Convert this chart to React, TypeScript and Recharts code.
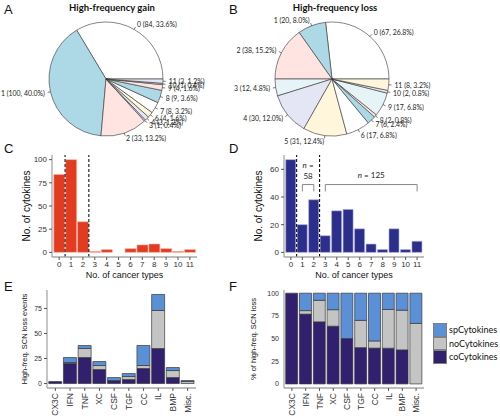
import {
  PieChart,
  Pie,
  Cell,
  BarChart,
  Bar,
  XAxis,
  YAxis,
  ReferenceLine,
  ReferenceDot,
} from "recharts";

// cancer-type counts (0..11) per cytokine
const cancerTypes = [0, 1, 2, 3, 4, 5, 6, 7, 8, 9, 10, 11];
const gainCounts = [84, 100, 33, 1, 3, 0, 4, 8, 9, 4, 1, 3];
const lossCounts = [67, 20, 38, 12, 30, 31, 17, 6, 2, 17, 2, 8];

// cytokine families, high-freq SCN loss events
const families = ["CX3C", "IFN", "TNF", "XC", "CSF", "TGF", "CC", "IL", "BMP", "Misc."];
const coCounts = [2, 20, 26, 14, 3, 4, 15, 35, 6, 0];
const noCounts = [0, 1, 9, 4, 0, 3, 3, 38, 7, 2];
const spCounts = [0, 5, 3, 4, 3, 3, 20, 16, 3, 1];

const gainTicks = [0, 25, 50, 75, 100];
const lossTicks = [0, 20, 40, 60];
const eventTicks = [0, 25, 50, 75];
const pctTicks = [0, 25, 50, 75, 100];

const PIE_COLORS = ["#ffffff", "#add8e6", "#ffe4e1", "#e6f4f8", "#e4e6f6", "#fff6dc"];
const AXIS_FONT = "'Liberation Sans', Arial, sans-serif";
const LABEL_FONT = "Lato, 'Open Sans', sans-serif";
const BOX = "#a8a8a8";
const CO = "#30206e";
const NO = "#c4c4c4";
const SP = "#5b8fd6";

const SERIES = [
  { key: "co", name: "coCytokines", color: CO },
  { key: "no", name: "noCytokines", color: NO },
  { key: "sp", name: "spCytokines", color: SP },
];

const RAD = Math.PI / 180;

const pieData = (counts: number[]) =>
  counts
    .map((v, i) => ({ name: String(cancerTypes[i]), value: v }))
    .filter((d) => d.value > 0);

const barData = (counts: number[]) => cancerTypes.map((t, i) => ({ x: t, n: counts[i] }));

const familyData = families.map((f, i) => ({
  family: f,
  co: coCounts[i],
  no: noCounts[i],
  sp: spCounts[i],
}));

// same counts as share of each family's total (ggplot position = "fill")
const familyShare = families.map((f, i) => {
  const total = coCounts[i] + noCounts[i] + spCounts[i];
  return {
    family: f,
    co: (coCounts[i] / total) * 100,
    no: (noCounts[i] / total) * 100,
    sp: (spCounts[i] / total) * 100,
  };
});

// R-style pie label: tick from r to 1.05r, text at 1.1r
function renderPieLabel(props: any) {
  const { cx, cy, midAngle, outerRadius, percent, payload } = props;
  const c = Math.cos(-midAngle * RAD);
  const s = Math.sin(-midAngle * RAD);
  const r = outerRadius;
  return (
    <g>
      <line
        x1={cx + r * c}
        y1={cy + r * s}
        x2={cx + 1.05 * r * c}
        y2={cy + 1.05 * r * s}
        stroke="#222"
        strokeWidth={0.6}
      />
      <text
        x={cx + 1.1 * r * c}
        y={cy + 1.1 * r * s}
        textAnchor={c < 0 ? "end" : "start"}
        dominantBaseline="central"
        fontSize={6.9}
        fontFamily={LABEL_FONT}
        fill="#222"
      >
        {`${payload.name} (${payload.value}, ${((percent ?? 0) * 100).toFixed(1)}%)`}
      </text>
    </g>
  );
}

function PiePanel({ counts, cx, width }: { counts: number[]; cx: number; width: number }) {
  const data = pieData(counts);
  return (
    <PieChart width={width} height={150} margin={{ top: 0, right: 0, bottom: 0, left: 0 }}>
      <Pie
        data={data}
        dataKey="value"
        nameKey="name"
        cx={cx}
        cy={79}
        outerRadius={57}
        startAngle={0}
        endAngle={360}
        stroke="#333"
        strokeWidth={0.6}
        label={renderPieLabel}
        labelLine={false}
        isAnimationActive={false}
      >
        {data.map((_, i) => (
          <Cell key={`cell-${i}`} fill={PIE_COLORS[i % PIE_COLORS.length]} />
        ))}
      </Pie>
    </PieChart>
  );
}

const tickStyle = { fill: "#333", fontSize: 8, fontFamily: AXIS_FONT };

function NText({ cx, cy, text, italicOnly }: any) {
  return (
    <text
      x={cx}
      y={cy}
      textAnchor="middle"
      dominantBaseline="central"
      fontSize={8}
      fontFamily={LABEL_FONT}
      fill="#222"
    >
      {italicOnly ? (
        text
      ) : (
        <>
          <tspan fontStyle="italic">n</tspan>
          {text}
        </>
      )}
    </text>
  );
}

function CountPanel({
  counts,
  color,
  edge,
  domain,
  ticks,
  yAxisWidth,
  right,
  annotate,
}: {
  counts: number[];
  color: string;
  edge: string;
  domain: number[];
  ticks: number[];
  yAxisWidth: number;
  right: number;
  annotate?: boolean;
}) {
  return (
    <BarChart
      width={250}
      height={140}
      data={barData(counts)}
      margin={{ top: 15, right, bottom: 0, left: 0 }}
      barCategoryGap="5%"
    >
      <XAxis
        type="number"
        dataKey="x"
        domain={[-0.6, 11.6]}
        ticks={cancerTypes}
        interval={0}
        height={23}
        tick={tickStyle}
        tickSize={3}
        tickMargin={1}
        tickLine={{ stroke: "#555" }}
        axisLine={{ stroke: BOX, strokeWidth: 1.3 }}
        label={{
          value: "No. of cancer types",
          position: "insideBottom",
          offset: 2,
          style: { fontSize: 9, fontFamily: AXIS_FONT, fill: "#111" },
        }}
      />
      <XAxis
        xAxisId="top"
        orientation="top"
        type="number"
        domain={[-0.6, 11.6]}
        height={0}
        tick={false}
        tickLine={false}
        axisLine={{ stroke: BOX, strokeWidth: 1.3 }}
      />
      <YAxis
        type="number"
        domain={domain}
        ticks={ticks}
        interval={0}
        width={yAxisWidth}
        tick={tickStyle}
        tickSize={3}
        tickMargin={2}
        tickLine={{ stroke: "#555" }}
        axisLine={{ stroke: BOX, strokeWidth: 1.3 }}
        label={{
          value: "No. of cytokines",
          angle: -90,
          position: "insideLeft",
          offset: yAxisWidth - 26,
          style: { textAnchor: "middle", fontSize: 10, fontFamily: AXIS_FONT, fill: "#111" },
        }}
      />
      <YAxis
        yAxisId="right"
        orientation="right"
        type="number"
        domain={domain}
        width={0}
        tick={false}
        tickLine={false}
        axisLine={{ stroke: BOX, strokeWidth: 1.3 }}
      />
      <Bar dataKey="n" fill={color} stroke={edge} strokeWidth={0.6} isAnimationActive={false} />
      <ReferenceLine x={0.5} stroke="#111" strokeDasharray="3 2" strokeWidth={1.1} />
      <ReferenceLine x={2.5} stroke="#111" strokeDasharray="3 2" strokeWidth={1.1} />
      {annotate && (
        <>
          <ReferenceLine segment={[{ x: 1, y: 49 }, { x: 2, y: 49 }]} stroke="#888" />
          <ReferenceLine segment={[{ x: 1, y: 44 }, { x: 1, y: 49 }]} stroke="#888" />
          <ReferenceLine segment={[{ x: 2, y: 44 }, { x: 2, y: 49 }]} stroke="#888" />
          <ReferenceLine segment={[{ x: 3, y: 49 }, { x: 11, y: 49 }]} stroke="#888" />
          <ReferenceLine segment={[{ x: 3, y: 44 }, { x: 3, y: 49 }]} stroke="#888" />
          <ReferenceLine segment={[{ x: 11, y: 44 }, { x: 11, y: 49 }]} stroke="#888" />
          <ReferenceDot x={1.5} y={63} r={0} shape={(p: any) => <NText {...p} text=" =" />} />
          <ReferenceDot x={1.5} y={55} r={0} shape={(p: any) => <NText {...p} text="58" italicOnly />} />
          <ReferenceDot x={7} y={56} r={0} shape={(p: any) => <NText {...p} text=" = 125" />} />
        </>
      )}
    </BarChart>
  );
}

function RotTick({ x, y, payload }: any) {
  return (
    <text
      x={x}
      y={y}
      transform={`rotate(-90, ${x}, ${y})`}
      textAnchor="end"
      dominantBaseline="central"
      fontSize={8.5}
      fontFamily={AXIS_FONT}
      fill="#333"
    >
      {payload.value}
    </text>
  );
}

function FamilyLegend() {
  return (
    <div style={{ position: "absolute", left: 433, top: 323 }}>
      {[...SERIES].reverse().map((s) => (
        <div key={s.key} style={{ display: "flex", alignItems: "center", height: 13.5 }}>
          <span
            style={{
              display: "inline-block",
              width: 14,
              height: 13.5,
              background: s.color,
              border: "1px solid #808080",
              boxSizing: "border-box",
            }}
          />
          <span style={{ marginLeft: 2, fontSize: 9, fontFamily: LABEL_FONT, color: "#111" }}>
            {s.name}
          </span>
        </div>
      ))}
    </div>
  );
}

function FamilyPanel({
  data,
  domain,
  ticks,
  yAxisWidth,
  right,
  tickLabelsAsLines,
}: {
  data: any[];
  domain: number[];
  ticks: number[];
  yAxisWidth: number;
  right: number;
  tickLabelsAsLines?: boolean;
}) {
  return (
    <BarChart
      width={250}
      height={138}
      data={data}
      margin={{ top: 10, right, bottom: 0, left: 0 }}
      barCategoryGap="5%"
    >
      <XAxis
        dataKey="family"
        interval={0}
        height={30}
        tick={<RotTick />}
        tickSize={3}
        tickMargin={2}
        tickLine={{ stroke: "#555" }}
        axisLine={{ stroke: BOX, strokeWidth: 1.3 }}
        padding={{ left: 1, right: 1 }}
      />
      <XAxis
        xAxisId="top"
        orientation="top"
        dataKey="family"
        height={0}
        tick={false}
        tickLine={false}
        axisLine={{ stroke: BOX, strokeWidth: 1.3 }}
      />
      <YAxis
        type="number"
        domain={domain}
        ticks={ticks}
        interval={0}
        allowDataOverflow
        width={yAxisWidth}
        tick={tickLabelsAsLines ? false : { ...tickStyle, fontSize: 7 }}
        tickSize={3}
        tickMargin={2}
        tickLine={{ stroke: "#555" }}
        axisLine={{ stroke: BOX, strokeWidth: 1.3 }}
      />
      <YAxis
        yAxisId="right"
        orientation="right"
        type="number"
        domain={domain}
        allowDataOverflow
        width={0}
        tick={false}
        tickLine={false}
        axisLine={{ stroke: BOX, strokeWidth: 1.3 }}
      />
      {SERIES.map((s) => (
        <Bar
          key={s.key}
          dataKey={s.key}
          name={s.name}
          stackId="a"
          fill={s.color}
          stroke="#3a3a3a"
          strokeWidth={0.7}
          isAnimationActive={false}
        />
      ))}
      {tickLabelsAsLines &&
        ticks.map((t) => (
          <ReferenceLine
            key={`tick-${t}`}
            y={t}
            stroke="none"
            label={{
              value: String(t),
              position: "left",
              offset: 5,
              style: { fill: "#333", fontSize: 7, fontFamily: AXIS_FONT },
            }}
          />
        ))}
    </BarChart>
  );
}

// rotated axis title, centred on (cx, cy)
const vTitle = (text: string, cx: number, cy: number) => (
  <div
    style={{
      position: "absolute",
      left: cx - 60,
      top: cy - 5,
      width: 120,
      height: 10,
      lineHeight: "10px",
      textAlign: "center",
      whiteSpace: "nowrap",
      transform: "rotate(-90deg)",
      fontSize: 7.5,
      fontFamily: AXIS_FONT,
      color: "#111",
    }}
  >
    {text}
  </div>
);

const letter = (ch: string, left: number, top: number) => (
  <div
    style={{
      position: "absolute",
      left,
      top,
      fontSize: 13,
      lineHeight: 1,
      fontFamily: AXIS_FONT,
      color: "#111",
    }}
  >
    {ch}
  </div>
);

const title = (text: string, center: number) => (
  <div
    style={{
      position: "absolute",
      left: center - 80,
      width: 160,
      top: 3,
      textAlign: "center",
      fontSize: 9.5,
      fontWeight: 700,
      lineHeight: 1,
      fontFamily: LABEL_FONT,
      color: "#111",
    }}
  >
    {text}
  </div>
);

export default function App() {
  return (
    <div
      style={{
        position: "absolute",
        left: 0,
        top: 0,
        width: 500,
        height: 418,
        background: "#fff",
        overflow: "hidden",
      }}
    >
      <div style={{ position: "absolute", left: 0, top: 140 }}>
        <CountPanel
          counts={gainCounts}
          color="#e23b1f"
          edge="#f7b4a4"
          domain={[-5, 105]}
          ticks={gainTicks}
          yAxisWidth={52}
          right={53}
        />
      </div>
      <div style={{ position: "absolute", left: 250, top: 140 }}>
        <CountPanel
          counts={lossCounts}
          color="#2b2e8a"
          edge="#a9abd8"
          domain={[-3.35, 70.35]}
          ticks={lossTicks}
          yAxisWidth={34}
          right={76}
          annotate
        />
      </div>
      <div style={{ position: "absolute", left: 0, top: 280 }}>
        <FamilyPanel
          data={familyData}
          domain={[-4.45, 93.45]}
          ticks={eventTicks}
          yAxisWidth={47}
          right={54}
        />
      </div>
      <div style={{ position: "absolute", left: 250, top: 280 }}>
        <FamilyPanel
          data={familyShare}
          domain={[-4.5, 103.5]}
          ticks={pctTicks}
          yAxisWidth={34}
          right={76}
          tickLabelsAsLines
        />
      </div>
      {vTitle("High-freq. SCN loss events", 25, 339)}
      {vTitle("% of high-freq. SCN loss", 254, 339)}
      <FamilyLegend />
      <div style={{ position: "absolute", left: 0, top: 0 }}>
        <PiePanel counts={gainCounts} cx={106} width={240} />
      </div>
      <div style={{ position: "absolute", left: 200, top: 0 }}>
        <PiePanel counts={lossCounts} cx={132} width={300} />
      </div>
      {title("High-frequency gain", 112)}
      {title("High-frequency loss", 335)}
      {letter("A", 4, 3)}
      {letter("B", 229, 3)}
      {letter("C", 4, 142)}
      {letter("D", 229, 142)}
      {letter("E", 4, 280)}
      {letter("F", 229, 280)}
    </div>
  );
}
